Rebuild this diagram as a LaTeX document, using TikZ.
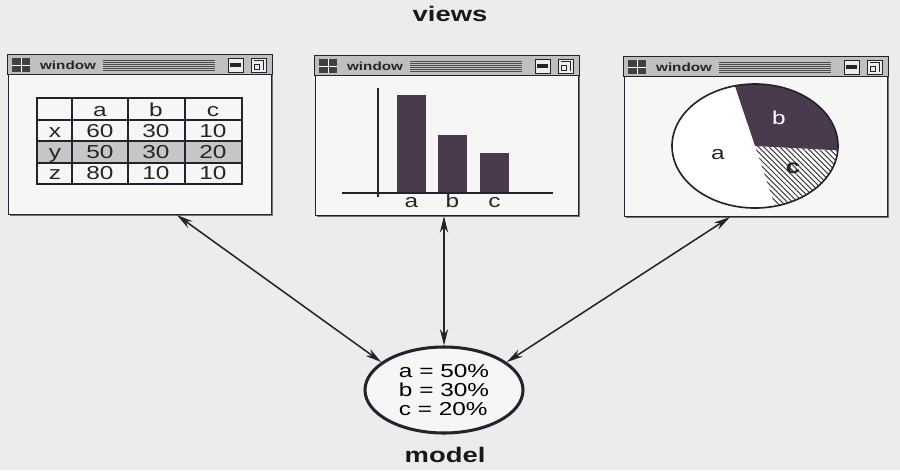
\documentclass[tikz,border=0pt]{standalone}
\usepackage{fontspec}
\setmainfont{Liberation Sans}[FakeStretch=1.3]
\usetikzlibrary{shapes,arrows.meta,positioning,calc,patterns.meta,shadows}

\definecolor{paper}{RGB}{236,236,236}
\definecolor{pane}{RGB}{246,246,244}
\definecolor{bardark}{RGB}{74,58,78}
\definecolor{inkline}{RGB}{40,32,44}

\begin{document}
\begin{tikzpicture}[
    x=0.03cm, y=-0.03cm,
    winbox/.style={rectangle, draw=inkline, line width=1pt, fill=pane, minimum width=7.89cm, minimum height=4.77cm, inner sep=0pt, drop shadow={shadow xshift=1pt, shadow yshift=-1.2pt, fill=black!55, opacity=1}},
    titlebar/.style={draw=inkline, line width=0.8pt, fill=gray!50},
    wintitle/.style={font=\fontsize{10}{12}\selectfont\bfseries, text=black!85, inner sep=0pt},
    cell/.style={font=\fontsize{16}{18}\selectfont, text=black!85, inner sep=0pt, anchor=base},
    model/.style={ellipse, draw=inkline, line width=2.6pt, fill=pane, minimum width=4.74cm, minimum height=2.58cm, align=left, font=\fontsize{16}{16.5}\selectfont},
    caption/.style={font=\fontsize{18}{20}\selectfont\bfseries, text=black!90},
    arrow/.style={{Stealth[length=14pt,width=7pt]}-{Stealth[length=14pt,width=7pt]}, line width=1.3pt, draw=inkline},
]
\useasboundingbox (0,0) rectangle (900,470);
\fill[paper] (0,0) rectangle (900,470);

% Views
\node[caption] (views) at (450,14) {views};
\node[winbox] (tabwin) at (140,135) {};
\node[winbox] (barwin) at (447,136) {};
\node[winbox] (piewin) at (756,137) {};

% Title bars
\foreach \w in {tabwin,barwin,piewin}{
    \draw[titlebar] (\w.north west) rectangle ($(\w.north east)+(0,20)$);
    \fill[black!75] ($(\w.north west)+(4,3)$) rectangle ++(18,14);
    \draw[white, line width=0.6pt] ($(\w.north west)+(13,3)$) -- ++(0,14) ($(\w.north west)+(4,10)$) -- ++(18,0);
    \node[wintitle, anchor=west] at ($(\w.north west)+(32,10)$) {window};
    \foreach \st in {5,7,...,15}
        \draw[black!70, line width=0.6pt] ($(\w.north west)+(95,\st)$) -- ++(112,0);
    \draw[inkline, fill=gray!15] ($(\w.north east)+(-44,3)$) rectangle ++(15,14);
    \fill[inkline] ($(\w.north east)+(-42,8)$) rectangle ++(11,4);
    \draw[inkline, fill=gray!15] ($(\w.north east)+(-21,3)$) rectangle ++(15,14);
    \draw[inkline, line width=0.8pt] ($(\w.north east)+(-18,6)$) -- ++(9,0) -- ++(0,9) ($(\w.north east)+(-18,10)$) rectangle ++(5,5);
}

% Table view
\fill[gray!45] (37,141) rectangle (242,163);
\draw[inkline, line width=0.9pt] (37,98) rectangle (242,184);
\foreach \xx in {72,128,185} \draw[inkline, line width=0.9pt] (\xx,98) -- (\xx,184);
\foreach \yy in {120,141,163} \draw[inkline, line width=0.9pt] (37,\yy) -- (242,\yy);
\foreach \col/\xx in {a/100,b/156,c/213} \node[cell] (head\col) at (\xx,116) {\col};
\foreach \rw/\yy/\va/\vb/\vc in {x/137/60/30/10, y/158/50/30/20, z/179/80/10/10}{
    \node[cell] (row\rw) at (55,\yy) {\rw};
    \node[cell] (row\rw a) at (100,\yy) {\va};
    \node[cell] (row\rw b) at (156,\yy) {\vb};
    \node[cell] (row\rw c) at (213,\yy) {\vc};
}

% Bar chart view
\foreach \xx/\top/\lab in {397/95/a, 438/135/b, 480/153/c}{
    \fill[bardark] (\xx,\top) rectangle ++(29,{193-\top});
    \node[cell] (bar\lab) at (\xx+14.5,207) {\lab};
}
\draw[inkline, line width=0.9pt] (378,88) -- (378,197) (342,193) -- (553,193);

% Pie chart view
\coordinate (pc) at (755,146);
\fill[white] (pc) ellipse [x radius=83, y radius=62];
\fill[bardark] (pc) -- ++(-104:83 and 62) arc[start angle=-104, end angle=4, x radius=83, y radius=62] -- cycle;
\fill[pattern={Lines[angle=-45, distance=3.2pt, line width=0.9pt]}, pattern color=black!75] (pc) -- ++(4:83 and 62) arc[start angle=4, end angle=76, x radius=83, y radius=62] -- cycle;
\draw[inkline, line width=1.4pt] (pc) ellipse [x radius=83, y radius=62];
\node[cell, anchor=center, text=white] (pieb) at (779,118) {b};
\node[cell, anchor=center] (piea) at (718,155) {a};
\node[cell, anchor=center, font=\fontsize{17}{18}\selectfont\bfseries] (piec) at (793,168) {c};

% Model
\node[model] (model) at (444,390) {a = 50\%\\b = 30\%\\c = 20\%};
\node[caption] (modelcap) at (445,455) {model};

% Arrows
\draw[arrow] ($(tabwin.south)+(37,0)$) -- (model.156);
\draw[arrow] (model.north |- barwin.south) -- (model.north);
\draw[arrow] ($(piewin.south)+(-26,0)$) -- (model.24);

\end{tikzpicture}
\end{document}
